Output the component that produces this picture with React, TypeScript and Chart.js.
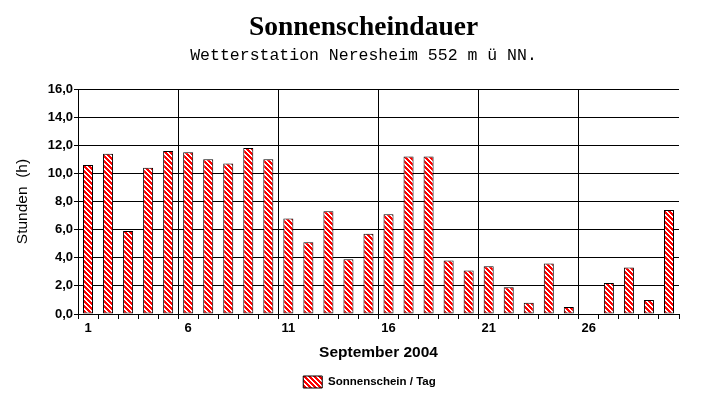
import React, { useEffect, useRef } from "react";
import { Chart, registerables } from "chart.js";

Chart.register(...registerables);

const days: string[] = [
  "1", "2", "3", "4", "5", "6", "7", "8", "9", "10",
  "11", "12", "13", "14", "15", "16", "17", "18", "19", "20",
  "21", "22", "23", "24", "25", "26", "27", "28", "29", "30",
];
const sunshineHours: (number | null)[] = [
  10.6, 11.4, 5.9, 10.4, 11.6, 11.5, 11.0, 10.7, 11.8, 11.0,
  6.8, 5.1, 7.3, 3.9, 5.7, 7.1, 11.2, 11.2, 3.8, 3.1,
  3.4, 1.9, 0.8, 3.6, 0.5, 0, 2.2, 3.3, 1.0, 7.4,
];
const seriesLabel = "Sonnenschein / Tag";
const titleText = "Sonnenscheindauer";
const subtitleText = "Wetterstation Neresheim 552 m ü NN.";
const xTitle = "September 2004";
const yTitle = "Stunden  (h)";

function makeHatch(): CanvasPattern | string {
  const n = 5;
  const c = document.createElement("canvas");
  c.width = n;
  c.height = n;
  const g = c.getContext("2d");
  if (!g) return "#ff0000";
  g.fillStyle = "#ff0000";
  g.fillRect(0, 0, n, n);
  g.fillStyle = "#ffffff";
  for (let y = 0; y < n; y++) {
    g.fillRect(y % n, y, 1, 1);
    g.fillRect((y + 1) % n, y, 1, 1);
  }
  const p = g.createPattern(c, "repeat");
  return p || "#ff0000";
}

const shiftLegend = {
  id: "shiftLegend",
  afterLayout(chart: any) {
    const lg = chart.legend;
    if (lg) {
      lg.left += 6;
      lg.right += 6;
    }
  },
};

export default function App() {
  const ref = useRef<HTMLCanvasElement>(null);
  useEffect(() => {
    document.body.style.margin = "0";
    if (!ref.current) return;
    const hatch = makeHatch();
    const bold = (size: number) => ({ family: "'Liberation Sans', Arial, sans-serif", size, weight: "bold" as const });
    const chart = new Chart(ref.current, {
      type: "bar",
      data: {
        labels: days,
        datasets: [
          {
            label: seriesLabel,
            data: sunshineHours,
            backgroundColor: hatch as any,
            borderColor: "#000000",
            borderWidth: 1,
            borderSkipped: false,
            barPercentage: 0.5,
            categoryPercentage: 1.0,
          },
        ],
      },
      plugins: [shiftLegend],
      options: {
        animation: false,
        responsive: false,
        devicePixelRatio: 1,
        layout: { padding: { left: 0, right: 0, top: 0, bottom: 6 } },
        plugins: {
          title: {
            display: true,
            text: titleText,
            color: "#000000",
            font: { family: "'Liberation Serif', 'Times New Roman', serif", size: 27.5, weight: "bold" },
            padding: { top: 11, bottom: 2 },
          },
          subtitle: {
            display: true,
            text: subtitleText,
            color: "#000000",
            font: { family: "'Liberation Mono', 'Courier New', monospace", size: 16.5 },
            padding: { top: 0, bottom: 23.2 },
          },
          legend: {
            display: true,
            position: "bottom",
            labels: {
              color: "#000000",
              font: bold(11.5),
              boxWidth: 19,
              boxHeight: 12,
              padding: 8,
            },
          },
          tooltip: { enabled: false },
        },
        scales: {
          x: {
            offset: true,
            grid: {
              offset: true,
              color: (ctx: any) => (ctx.index % 5 === 0 ? "#000000" : "rgba(0,0,0,0)"),
              tickColor: "#000000",
              lineWidth: 1,
              drawTicks: true,
              tickLength: 5,
            },
            border: { display: true, color: "#000000", width: 1 },
            ticks: {
              autoSkip: false,
              maxRotation: 0,
              minRotation: 0,
              color: "#000000",
              font: bold(13),
              padding: 2,
              callback: (_v: any, i: number) => (i % 5 === 0 ? days[i] : ""),
            },
            title: {
              display: true,
              text: xTitle,
              color: "#000000",
              font: bold(15.5),
              padding: { top: 9, bottom: 5.7 },
            },
            afterFit: (s: any) => {
              s.height = 54;
            },
          },
          y: {
            min: 0,
            max: 16,
            grid: {
              color: "#000000",
              tickColor: "#000000",
              lineWidth: 1,
              drawTicks: true,
              tickLength: 4,
            },
            border: { display: true, color: "#000000", width: 1 },
            ticks: {
              stepSize: 2,
              color: "#000000",
              font: bold(13),
              padding: 1,
              callback: (v: any) => Number(v).toFixed(1).replace(".", ","),
            },
            title: {
              display: true,
              text: yTitle,
              color: "#000000",
              font: { family: "'Liberation Sans', Arial, sans-serif", size: 15.5 },
              padding: { top: 13.5, bottom: 0 },
            },
            afterFit: (s: any) => {
              s.width = 78;
            },
          },
          yRight: {
            position: "right",
            display: true,
            grid: { display: false, drawTicks: false },
            border: { display: false },
            ticks: { display: false },
            afterFit: (s: any) => {
              s.width = 48;
            },
          },
        },
      },
    });
    return () => chart.destroy();
  }, []);
  return (
    <div style={{ width: 727, height: 404, background: "#ffffff" }}>
      <canvas ref={ref} width={727} height={404} style={{ display: "block" }} />
    </div>
  );
}
